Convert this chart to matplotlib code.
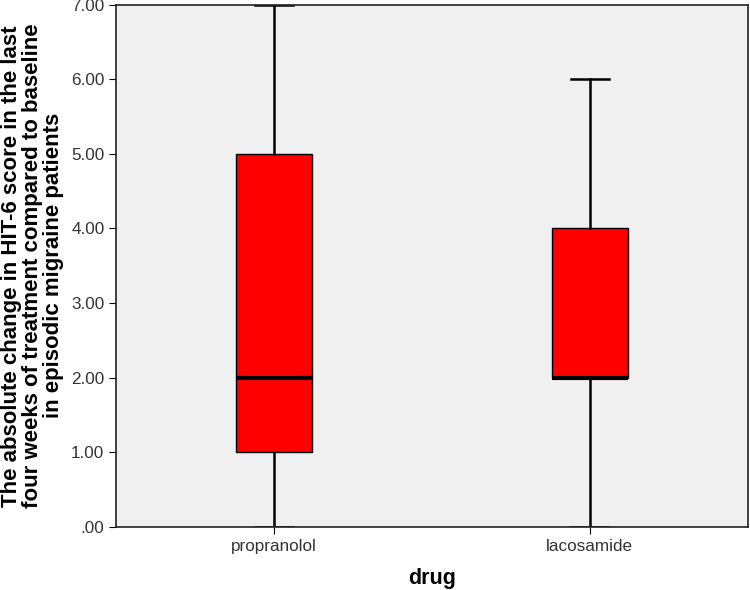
import matplotlib
matplotlib.use('Agg')
import matplotlib.pyplot as plt
from matplotlib.ticker import FuncFormatter

plt.rcParams['font.family'] = ['Liberation Sans', 'DejaVu Sans']

drugs = ['propranolol', 'lacosamide']
whislo = [0, 0]
q1 = [1, 2]
med = [2, 2]
q3 = [5, 4]
whishi = [7, 6]

stats = []
for i, d in enumerate(drugs):
    stats.append({'label': d, 'whislo': whislo[i], 'q1': q1[i], 'med': med[i],
                  'q3': q3[i], 'whishi': whishi[i], 'fliers': []})

fig = plt.figure(figsize=(7.5, 5.9), dpi=100)
ax = fig.add_axes([0.155, 0.107, 0.842, 0.885])
ax.set_facecolor('#f0f0f0')

ax.bxp(stats, positions=[1, 2], widths=0.24, patch_artist=True, showfliers=False,
       boxprops=dict(facecolor='#ff0000', edgecolor='black', linewidth=1),
       whiskerprops=dict(color='black', linewidth=1.8),
       capprops=dict(color='black', linewidth=1.8),
       medianprops=dict(color='black', linewidth=3),
       capwidths=0.12)

ax.set_xlim(0.5, 2.5)
ax.set_ylim(0, 7)
ax.set_yticks(range(8))
ax.yaxis.set_major_formatter(FuncFormatter(lambda v, p: '.00' if v == 0 else '%.2f' % v))
ax.tick_params(axis='both', labelsize=12.3, colors='#333333', length=5)
ax.tick_params(axis='both', color='black')
for s in ax.spines.values():
    s.set_linewidth(1.2)
    s.set_color('#222222')

ax.set_xlabel('drug', fontsize=15.5, fontweight='bold', labelpad=10)
ax.set_ylabel('The absolute change in HIT-6 score in the last\nfour weeks of treatment compared to baseline\nin episodic migraine patients',
              fontsize=16, fontweight='bold', linespacing=1.0, labelpad=5)

fig.savefig('out.png', dpi=100)
